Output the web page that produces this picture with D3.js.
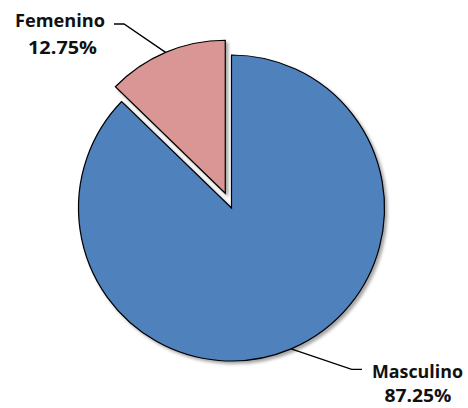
<!DOCTYPE html>
<html><head><meta charset="utf-8">
<script src="https://cdn.jsdelivr.net/npm/d3@7"></script>
<style>html,body{margin:0;padding:0;background:#fff;}svg{display:block;}</style>
</head><body>
<svg id="chart" width="468" height="408"></svg>
<script>
const categories = ["Masculino", "Femenino"];
const values = [87.25, 12.75];
const valueLabels = ["87.25%", "12.75%"];
const colors = ["#4F81BD", "#D99694"];

const W = 468, H = 408;
const cx = 231.5, cy = 208, R = 153;
const explode = [0, 16];
// label layout
const labelLayout = [
  {x: 417.5, y1: 378, w1: 91, x2: 418, y2: 402, w2: 67, lx: 351.7, ly: 369.3, hx: 362},
  {x: 60, y1: 27, w1: 90, x2: 62.5, y2: 54, w2: 69, lx: 124, ly: 24, hx: 114}
];

const svg = d3.select("#chart");
const defs = svg.append("defs");
const f = defs.append("filter").attr("id", "sh").attr("x", "-20%").attr("y", "-20%").attr("width", "140%").attr("height", "140%");
f.append("feDropShadow").attr("dx", 2.5).attr("dy", 2.5).attr("stdDeviation", 1.5)
  .attr("flood-color", "#000").attr("flood-opacity", 0.35);

const pie = d3.pie().sort(null).value(d => d).startAngle(0).endAngle(2 * Math.PI);
const arcs = pie(values);
const arc = d3.arc().innerRadius(0).outerRadius(R);

const g = svg.append("g").attr("transform", `translate(${cx},${cy})`);

arcs.forEach((a, i) => {
  const mid = (a.startAngle + a.endAngle) / 2;
  const ox = Math.sin(mid) * explode[i], oy = -Math.cos(mid) * explode[i];
  g.append("path")
    .attr("d", arc(a))
    .attr("transform", `translate(${ox},${oy})`)
    .attr("fill", colors[i])
    .attr("stroke", "#000")
    .attr("stroke-width", 1.2)
    .attr("stroke-linejoin", "miter")
    .attr("filter", "url(#sh)");
});

arcs.forEach((a, i) => {
  const mid = (a.startAngle + a.endAngle) / 2;
  const ox = Math.sin(mid) * explode[i], oy = -Math.cos(mid) * explode[i];
  const px = cx + ox + Math.sin(mid) * R, py = cy + oy - Math.cos(mid) * R;
  const L = labelLayout[i];
  svg.append("polyline")
    .attr("points", `${px},${py} ${L.lx},${L.ly} ${L.hx},${L.ly}`)
    .attr("fill", "none").attr("stroke", "#000").attr("stroke-width", 1.3);
  svg.append("text")
    .attr("x", L.x).attr("y", L.y1)
    .attr("text-anchor", "middle")
    .attr("font-family", "Open Sans, Liberation Sans, sans-serif")
    .attr("font-weight", "bold").attr("font-size", 17)
    .attr("textLength", L.w1).attr("lengthAdjust", "spacingAndGlyphs")
    .attr("fill", "#111")
    .text(categories[i]);
  svg.append("text")
    .attr("x", L.x2).attr("y", L.y2)
    .attr("text-anchor", "middle")
    .attr("font-family", "Open Sans, Liberation Sans, sans-serif")
    .attr("font-weight", "bold").attr("font-size", 17)
    .attr("textLength", L.w2).attr("lengthAdjust", "spacingAndGlyphs")
    .attr("fill", "#111")
    .text(valueLabels[i]);
});
</script>
</body></html>
